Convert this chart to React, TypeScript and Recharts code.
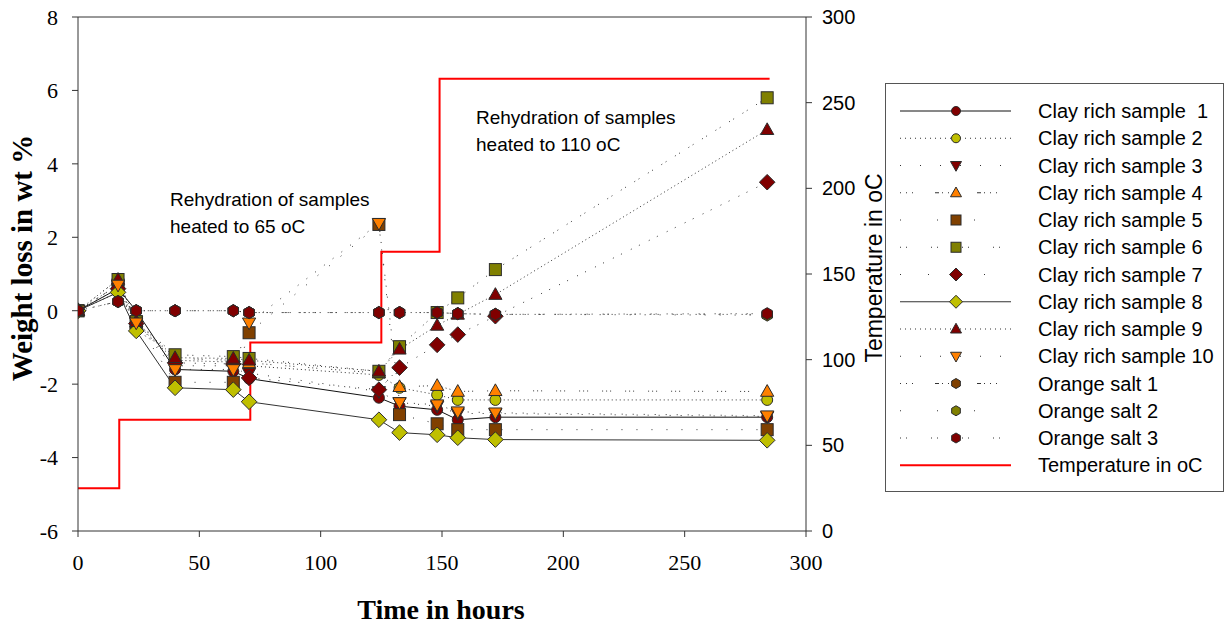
import React from 'react';
import { LineChart, Line, XAxis, YAxis, ReferenceLine } from 'recharts';

// sampling times (hours) shared by all weight series
const hours = [0, 16.5, 24, 40, 64, 70.5, 124, 132.5, 148, 156.5, 172, 284];

// weight loss in wt %, one value per sampling time
const clay1 = [0, 0.6, 0, -1.6, -1.65, -1.85, -2.37, -2.6, -2.7, -2.97, -2.9, -2.9];
const clay2 = [0, 0.5, -0.35, -1.35, -1.4, -1.5, -1.75, -2.1, -2.29, -2.43, -2.43, -2.43];
const clay3 = [0, 0.7, -0.3, -1.5, -1.5, -1.7, -2.2, -2.5, -2.6, -2.8, -2.8, -2.88];
const clay4 = [0, 0.7, -0.35, -1.3, -1.35, -1.42, -1.7, -2.07, -2.04, -2.2, -2.18, -2.2];
const clay5 = [0, 0.7, -0.3, -1.95, -1.95, -0.6, 2.35, -2.83, -3.08, -3.24, -3.24, -3.24];
const clay6 = [0, 0.85, -0.3, -1.2, -1.25, -1.3, -1.65, -0.98, -0.05, 0.35, 1.12, 5.8];
const clay7 = [0, 0.6, -0.35, -1.42, -1.45, -1.83, -2.15, -1.55, -0.93, -0.65, -0.15, 3.5];
const clay8 = [0, 0.5, -0.55, -2.1, -2.15, -2.48, -2.97, -3.32, -3.38, -3.46, -3.51, -3.53];
const clay9 = [0, 0.85, -0.3, -1.28, -1.3, -1.35, -1.65, -1.05, -0.4, -0.1, 0.44, 4.93];
const clay10 = [0, 0.7, -0.33, -1.6, -1.6, -0.33, 2.38, -2.5, -2.56, -2.75, -2.78, -2.86];
const salt1 = [0, 0.25, 0, 0, 0, -0.05, -0.05, -0.05, -0.05, -0.08, -0.1, -0.1];
const salt2 = [0, 0.25, 0, 0, 0, -0.05, -0.05, -0.05, -0.05, -0.08, -0.1, -0.12];
const salt3 = [0, 0.25, 0, 0, 0, -0.05, -0.05, -0.05, -0.05, -0.08, -0.1, -0.08];

// oven temperature steps
const tempHours = [0, 17, 71, 125, 149, 285];
const tempValues = [25, 65, 110, 163, 264, 264];

const xTicks = [0, 50, 100, 150, 200, 250, 300];
const weightTicks = [-6, -4, -2, 0, 2, 4, 6, 8];
const tempTicks = [0, 50, 100, 150, 200, 250, 300];

const DARK_RED = '#800000';
const YELLOW = '#BFBF00';
const ORANGE = '#FF8000';
const BROWN = '#804000';
const OLIVE = '#808000';

type Shape = 'circle' | 'square' | 'up' | 'down' | 'diamond' | 'hex';

const series: { key: string; name: string; values: number[]; shape: Shape; fill: string; dash?: string; legendDash?: string; stroke: string }[] = [
  { key: 'c1', name: 'Clay rich sample  1', values: clay1, shape: 'circle', fill: DARK_RED, stroke: '#111' },
  { key: 'c2', name: 'Clay rich sample 2', values: clay2, shape: 'circle', fill: YELLOW, dash: '1 3', legendDash: '1 4', stroke: '#333' },
  { key: 'c3', name: 'Clay rich sample 3', values: clay3, shape: 'down', fill: DARK_RED, dash: '1 10', legendDash: '1 19', stroke: '#333' },
  { key: 'c4', name: 'Clay rich sample 4', values: clay4, shape: 'up', fill: ORANGE, dash: '1 3 1 3 1 14', legendDash: '1 5 1 5 1 22 4 3', stroke: '#333' },
  { key: 'c5', name: 'Clay rich sample 5', values: clay5, shape: 'square', fill: BROWN, dash: '1 14', legendDash: '1 36', stroke: '#333' },
  { key: 'c6', name: 'Clay rich sample 6', values: clay6, shape: 'square', fill: OLIVE, dash: '1 4 1 10', legendDash: '1 5 1 24', stroke: '#333' },
  { key: 'c7', name: 'Clay rich sample 7', values: clay7, shape: 'diamond', fill: DARK_RED, dash: '1 8 1 10', legendDash: '1 27', stroke: '#333' },
  { key: 'c8', name: 'Clay rich sample 8', values: clay8, shape: 'diamond', fill: YELLOW, stroke: '#333' },
  { key: 'c9', name: 'Clay rich sample 9', values: clay9, shape: 'up', fill: DARK_RED, dash: '1 3', legendDash: '1 4', stroke: '#333' },
  { key: 'c10', name: 'Clay rich sample 10', values: clay10, shape: 'down', fill: ORANGE, dash: '1 10', legendDash: '1 19', stroke: '#333' },
  { key: 's1', name: 'Orange salt 1', values: salt1, shape: 'hex', fill: BROWN, dash: '1 3 1 3 1 14', legendDash: '1 5 1 5 1 22 4 3', stroke: '#333' },
  { key: 's2', name: 'Orange salt 2', values: salt2, shape: 'hex', fill: OLIVE, dash: '1 14', legendDash: '1 36', stroke: '#333' },
  { key: 's3', name: 'Orange salt 3', values: salt3, shape: 'hex', fill: DARK_RED, dash: '1 4 1 10', legendDash: '1 5 1 24', stroke: '#333' },
];

const weightData = hours.map((t, i) => {
  const row: Record<string, number> = { t };
  series.forEach((s) => { row[s.key] = s.values[i]; });
  return row;
});

const tempData = tempHours.map((t, i) => ({ t, temp: tempValues[i] }));

function Marker({ cx, cy, shape, fill, size = 12 }: { cx: number; cy: number; shape: Shape; fill: string; size?: number }) {
  const r = size / 2;
  const common = { fill, stroke: '#2b2b2b', strokeWidth: 1 };
  switch (shape) {
    case 'circle':
      return <circle cx={cx} cy={cy} r={r - 0.5} {...common} />;
    case 'square':
      return <rect x={cx - r} y={cy - r} width={size} height={size} {...common} />;
    case 'up':
      return <polygon points={`${cx},${cy - r * 1.15} ${cx + r * 1.1},${cy + r * 0.8} ${cx - r * 1.1},${cy + r * 0.8}`} {...common} />;
    case 'down':
      return <polygon points={`${cx},${cy + r * 1.15} ${cx + r * 1.1},${cy - r * 0.8} ${cx - r * 1.1},${cy - r * 0.8}`} {...common} />;
    case 'diamond':
      return <polygon points={`${cx},${cy - r * 1.3} ${cx + r * 1.3},${cy} ${cx},${cy + r * 1.3} ${cx - r * 1.3},${cy}`} {...common} />;
    default: {
      const pts = [0, 1, 2, 3, 4, 5]
        .map((k) => {
          const a = (Math.PI / 3) * k + Math.PI / 6;
          return `${cx + r * Math.cos(a)},${cy + r * Math.sin(a)}`;
        })
        .join(' ');
      return <polygon points={pts} {...common} />;
    }
  }
}

const serif = '"Liberation Serif", "Times New Roman", serif';
const sans = '"Liberation Sans", Arial, sans-serif';

function ChartLegend() {
  const rowH = 27.25;
  return (
    <svg width={340} height={410} style={{ position: 'absolute', left: 885, top: 83 }}>
      <rect x={0.5} y={0.5} width={338} height={408} fill="#fff" stroke="#555" strokeWidth={1} />
      {series.map((s, i) => {
        const y = 28 + i * rowH;
        return (
          <g key={s.key}>
            <line x1={15} x2={126} y1={y} y2={y} stroke={s.stroke} strokeWidth={1} strokeDasharray={s.legendDash} />
            <Marker cx={71} cy={y} shape={s.shape} fill={s.fill} size={10} />
            <text x={153} y={y} dy="0.35em" fontFamily={sans} fontSize={20} fill="#000" style={{ whiteSpace: 'pre' }}>
              {s.name}
            </text>
          </g>
        );
      })}
      <g>
        <line x1={15} x2={126} y1={28 + 13 * rowH} y2={28 + 13 * rowH} stroke="#ff0000" strokeWidth={2} />
        <text x={153} y={28 + 13 * rowH} dy="0.35em" fontFamily={sans} fontSize={20} fill="#000">
          Temperature in oC
        </text>
      </g>
    </svg>
  );
}

const noteStyle: React.CSSProperties = {
  position: 'absolute',
  fontFamily: sans,
  fontSize: 19,
  lineHeight: '27px',
  color: '#000',
  whiteSpace: 'nowrap',
};

export default function App() {
  return (
    <div style={{ position: 'absolute', left: 0, top: 0, width: 1225, height: 624, background: '#fff' }}>
      <LineChart width={880} height={624} data={weightData} margin={{ top: 17, right: 14, bottom: 63, left: 18 }}>
        <XAxis
          dataKey="t"
          type="number"
          domain={[0, 300]}
          ticks={xTicks}
          height={30}
          tickSize={6}
          tickMargin={17}
          stroke="#333"
          tick={{ fontSize: 22, fontFamily: serif, fill: '#000' }}
          allowDataOverflow
        />
        <YAxis
          yAxisId="w"
          domain={[-6, 8]}
          ticks={weightTicks}
          width={60}
          tickSize={6}
          tickMargin={14}
          stroke="#333"
          tick={{ fontSize: 22, fontFamily: serif, fill: '#000' }}
          allowDataOverflow
        />
        <YAxis
          yAxisId="temp"
          orientation="right"
          domain={[0, 300]}
          ticks={tempTicks}
          width={60}
          tickSize={6}
          tickMargin={10}
          stroke="#333"
          tick={{ fontSize: 20, fontFamily: sans, fill: '#000' }}
          allowDataOverflow
        />
        <ReferenceLine yAxisId="w" y={8} stroke="#333" />
        <Line
          yAxisId="temp"
          data={tempData}
          dataKey="temp"
          type="stepAfter"
          stroke="#ff0000"
          strokeWidth={2}
          dot={false}
          activeDot={false}
          isAnimationActive={false}
        />
        {series.map((s) => (
          <Line
            key={s.key}
            yAxisId="w"
            dataKey={s.key}
            type="linear"
            stroke={s.stroke}
            strokeWidth={1}
            strokeDasharray={s.dash}
            activeDot={false}
            isAnimationActive={false}
            dot={(p: any) =>
              p.cx == null || p.cy == null ? (
                <g key={`${s.key}-${p.index}`} />
              ) : (
                <Marker key={`${s.key}-${p.index}`} cx={p.cx} cy={p.cy} shape={s.shape} fill={s.fill} />
              )
            }
          />
        ))}
      </LineChart>

      <div style={{ ...noteStyle, left: 170, top: 186 }}>
        Rehydration of samples
        <br />
        heated to 65 oC
      </div>
      <div style={{ ...noteStyle, left: 476, top: 104 }}>
        Rehydration of samples
        <br />
        heated to 110 oC
      </div>

      <div
        style={{
          position: 'absolute',
          left: 22,
          top: 258,
          transform: 'translate(-50%, -50%) rotate(-90deg)',
          fontFamily: serif,
          fontWeight: 'bold',
          fontSize: 29,
          whiteSpace: 'nowrap',
        }}
      >
        Weight loss in wt %
      </div>
      <div
        style={{
          position: 'absolute',
          left: 441,
          top: 610,
          transform: 'translate(-50%, -50%)',
          fontFamily: serif,
          fontWeight: 'bold',
          fontSize: 28,
          whiteSpace: 'nowrap',
        }}
      >
        Time in hours
      </div>
      <div
        style={{
          position: 'absolute',
          left: 874,
          top: 268,
          transform: 'translate(-50%, -50%) rotate(-90deg)',
          fontFamily: sans,
          fontSize: 23,
          whiteSpace: 'nowrap',
        }}
      >
        Temperature in oC
      </div>

      <ChartLegend />
    </div>
  );
}
